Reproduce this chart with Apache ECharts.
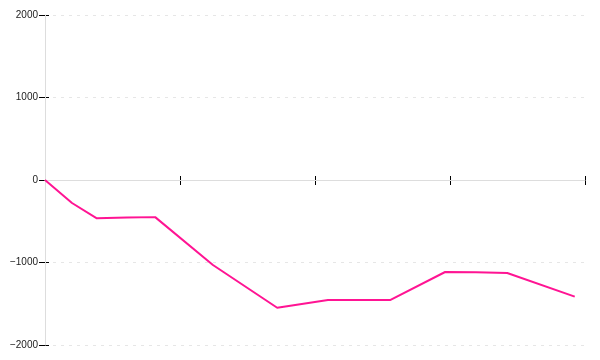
<!DOCTYPE html>
<html>
<head>
<meta charset="utf-8">
<script src="https://cdn.jsdelivr.net/npm/echarts@6/dist/echarts.min.js"></script>
<style>html,body{margin:0;padding:0;background:#fff;}#c{width:600px;height:360px;}</style>
</head>
<body>
<div id="c"></div>
<script>
var xValues = [0, 5, 9.6, 15.2, 20.4, 31.1, 43, 52.4, 63.9, 74.1, 79.8, 85.6, 98.1];
var yValues = [0, -279, -465, -455, -450, -1030, -1548, -1455, -1455, -1115, -1119, -1127, -1414];
var xTicks = [0, 25, 50, 75, 100];
var yTicks = [-2000, -1000, 0, 1000, 2000];

var points = xValues.map(function (x, i) { return [x, yValues[i]]; });
var xMin = xTicks[0], xMax = xTicks[xTicks.length - 1], xInt = xTicks[1] - xTicks[0];
var yMin = yTicks[0], yMax = yTicks[yTicks.length - 1], yInt = yTicks[1] - yTicks[0];

function xa(extra, idx) {
  return Object.assign({
    type: 'value', min: xMin, max: xMax, interval: xInt, position: 'bottom',
    axisLabel: { show: false }, splitLine: { show: false },
    axisLine: { show: false, onZero: true, onZeroAxisIndex: 0 }, axisTick: { show: false }
  }, extra);
}
function ya(extra) {
  return Object.assign({
    type: 'value', min: yMin, max: yMax, interval: yInt, position: 'left',
    axisLabel: { show: false }, splitLine: { show: false },
    axisLine: { show: false, onZero: true, onZeroAxisIndex: 0 }, axisTick: { show: false }
  }, extra);
}

var chart = echarts.init(document.getElementById('c'), null, { renderer: 'canvas' });
chart.setOption({
  animation: false,
  grid: { left: 45, right: 15, top: 15, bottom: 15, containLabel: false },
  xAxis: [
    xa({ axisTick: { show: true, length: 5, inside: false, lineStyle: { color: '#000', width: 1 } } }),
    xa({ axisTick: { show: true, length: 4, inside: true, lineStyle: { color: '#000', width: 1 } } }),
    xa({ z: 5, axisLine: { show: true, onZero: true, onZeroAxisIndex: 0, lineStyle: { color: '#dddddd', width: 1 } } })
  ],
  yAxis: [
    ya({
      axisLabel: {
        show: true, margin: 7, color: '#222', fontSize: 10, fontFamily: 'Liberation Sans, Arial, sans-serif',
        formatter: function (v) { return v < 0 ? '\u2212' + Math.abs(v) : String(v); }
      },
      axisTick: { show: true, length: 6, inside: false, lineStyle: { color: '#000', width: 1 } },
      splitLine: { show: true, lineStyle: { color: '#e6e6e6', type: [3, 5], width: 1 } }
    }),
    ya({ axisTick: { show: true, length: 4, inside: true, lineStyle: { color: '#000', width: 1 } } }),
    ya({ z: 5, axisLine: { show: true, onZero: true, onZeroAxisIndex: 0, lineStyle: { color: '#dddddd', width: 1 } } })
  ],
  series: [{
    type: 'line', xAxisIndex: 0, yAxisIndex: 0, data: points,
    showSymbol: false, symbol: 'none',
    lineStyle: { color: '#ff1493', width: 2 }, itemStyle: { color: '#ff1493' }, z: 10
  }]
});
</script>
</body>
</html>
